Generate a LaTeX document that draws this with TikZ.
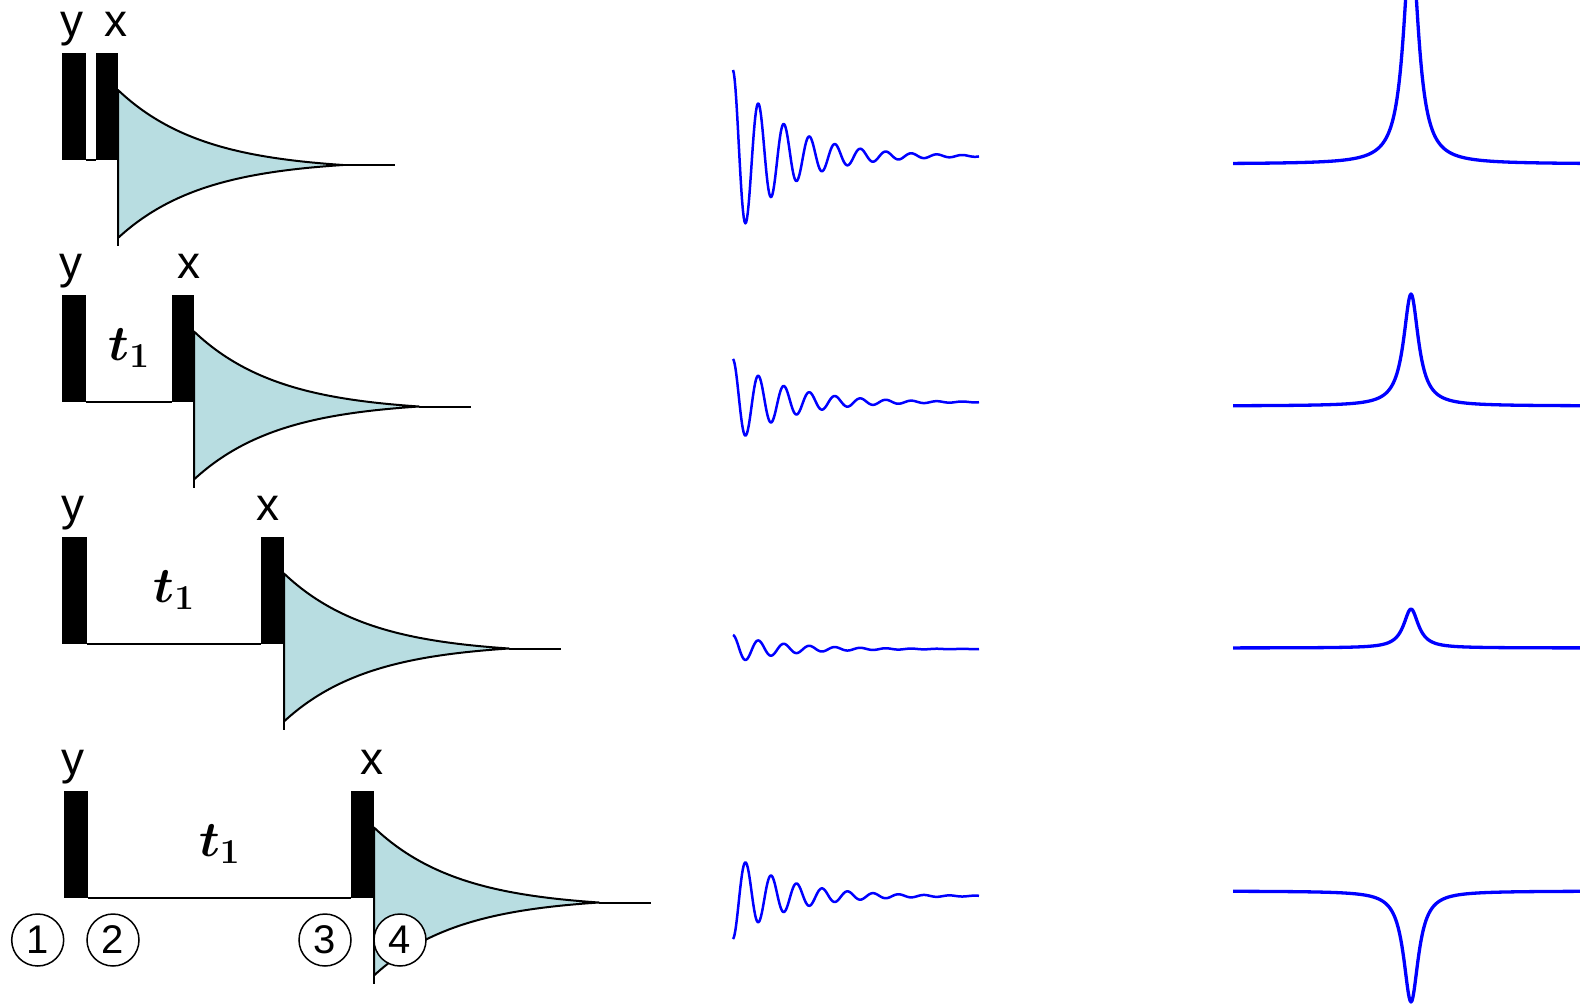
\RequirePackage{fix-cm}
\documentclass[tikz,border=0pt]{standalone}
\usepackage{fontspec}
\setmainfont{Liberation Sans}
\usetikzlibrary{calc}

\definecolor{envblue}{RGB}{184,221,225}

% decaying envelope behind the x pulse (#1 = pulse node)
\newcommand{\fidenv}[1]{%
  \begin{scope}[shift={(#1.south east)}]
    \filldraw[env] plot[domain=0:225, samples=120] ({\x},{5-75*(exp(-\x/85)-0.0708)/0.9292})
      -- plot[domain=225:0, samples=120] ({\x},{5+73*(exp(-\x/85)-0.0708)/0.9292}) -- cycle;
    \draw[env, fill=none] (225,5) -- (277,5);
    \draw[env, fill=none] (0,78) -- (0,86);
  \end{scope}}
% time signal: #1 baseline, #2 start amplitude
\newcommand{\fidtrace}[2]{%
  \draw[fid] plot[domain=0:246, samples=300] ({733+\x},{#1-(#2)*exp(-\x/51.6)*cos(\x/25.5*360)});}
% spectrum line: #1 baseline, #2 peak height
\newcommand{\specline}[2]{%
  \draw[spec] plot[domain=1233:1580, samples=348] (\x,{#1-(#2)/(1+((\x-1411)/9)^2)});}

\begin{document}
\begin{tikzpicture}[x=1pt, y=-1pt,
  pulse/.style={fill=black, inner sep=0, outer sep=0, minimum width=24pt, minimum height=107pt},
  lbl/.style={font=\fontsize{46}{50}\selectfont, inner sep=0, anchor=base},
  tlbl/.style={font=\fontsize{50}{55}\selectfont\boldmath, inner sep=0},
  num/.style={draw, circle, line width=1.5pt, fill=white, minimum size=52pt, inner sep=0, font=\fontsize{40}{42}\selectfont},
  delay/.style={line width=2pt},
  env/.style={fill=envblue, draw=black, line width=2pt, line join=round},
  fid/.style={blue, line width=2.5pt, line join=round},
  spec/.style={blue, line width=3.3pt, line join=round}]
	\useasboundingbox (0,0) rectangle (1580,1004);
	\clip (0,0) rectangle (1580,1004);

	% row 1
	\node[pulse] (y1) at (74,106.5) {};
	\node[pulse, minimum width=22pt] (x1) at (107,106.5) {};
	\draw[delay] (y1.south east) -- (x1.south west);
	\node[lbl] (ly1) at (72,36) {y};
	\node[lbl] (lx1) at (116,36) {x};
	\fidenv{x1}

	% row 2
	\node[pulse] (y2) at (74,348) {};
	\node[pulse, minimum width=22pt] (x2) at (183,348) {};
	\draw[delay] (y2.south east) -- (x2.south west);
	\node[lbl] (ly2) at (71,278) {y};
	\node[lbl] (lx2) at (189,278) {x};
	\node[tlbl] (t2) at ($(y2.east)!0.5!(x2.west)$) {$t_1$};
	\fidenv{x2}

	% row 3
	\node[pulse, minimum width=25pt] (y3) at (74.5,590) {};
	\node[pulse, minimum width=23pt] (x3) at (272.5,590) {};
	\draw[delay] (y3.south east) -- (x3.south west);
	\node[lbl] (ly3) at (73,520) {y};
	\node[lbl] (lx3) at (268,520) {x};
	\node[tlbl] (t3) at ($(y3.east)!0.5!(x3.west)$) {$t_1$};
	\fidenv{x3}

	% row 4
	\node[pulse] (y4) at (76,844) {};
	\node[pulse, minimum width=23pt] (x4) at (362.5,844) {};
	\draw[delay] (y4.south east) -- (x4.south west);
	\node[lbl] (ly4) at (73,774) {y};
	\node[lbl] (lx4) at (372,774) {x};
	\node[tlbl] (t4) at ($(y4.east)!0.5!(x4.west)$) {$t_1$};
	\fidenv{x4}

	% signals and spectra
	\fidtrace{156}{86}
	\fidtrace{402}{43}
	\fidtrace{649}{14}
	\fidtrace{896}{-43}
	\specline{164}{224}
	\specline{406}{112}
	\specline{648}{39}
	\specline{891}{-111}

	% time points
	\node[num] (n1) at (37.7,940) {1};
	\node[num] (n2) at (113,940) {2};
	\node[num] (n3) at (325,940) {3};
	\node[num] (n4) at (400,940) {4};
\end{tikzpicture}
\end{document}
